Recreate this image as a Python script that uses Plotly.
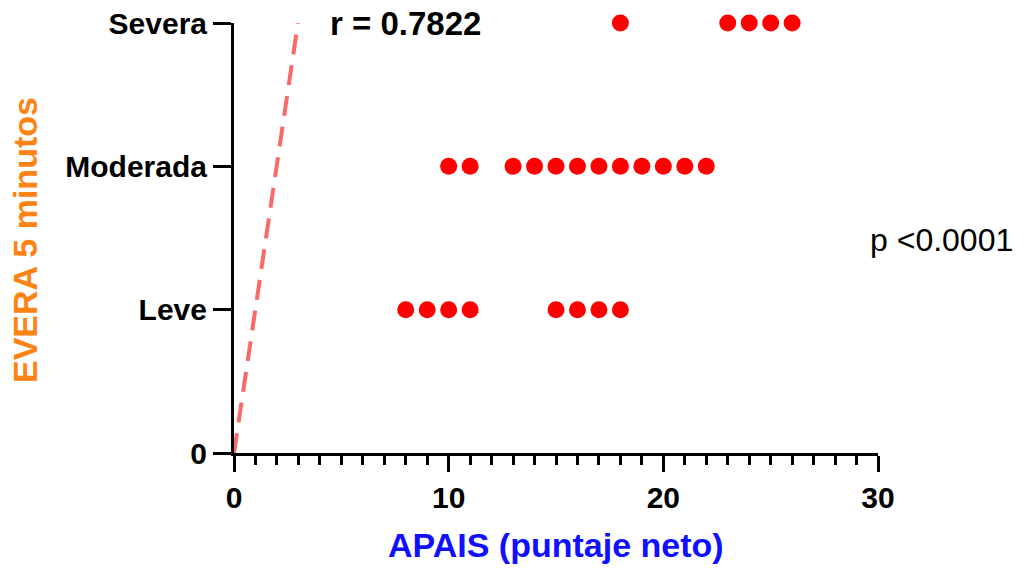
import plotly.graph_objects as go

# Data
levels = ["0", "Leve", "Moderada", "Severa"]
level_vals = [0, 1, 2, 3]
leve_x = [8, 9, 10, 11, 15, 16, 17, 18]
moderada_x = [10, 11, 13, 14, 15, 16, 17, 18, 19, 20, 21, 22]
severa_x = [18, 23, 24, 25, 26]
fit_x = [0, 2.98]
fit_y = [0, 3.0]
x_ticks = [0, 10, 20, 30]

FONT = "Arial, Liberation Sans, sans-serif"
RED = "#ff0000"

fig = go.Figure()

fig.add_trace(go.Scatter(x=fit_x, y=fit_y, mode="lines",
                         line=dict(color="#f86a6a", width=4, dash="20px,11px"),
                         showlegend=False, hoverinfo="skip"))

for xs, lv in [(leve_x, 1), (moderada_x, 2), (severa_x, 3)]:
    fig.add_trace(go.Scatter(x=xs, y=[lv] * len(xs), mode="markers",
                             marker=dict(color=RED, size=17, line=dict(width=0)),
                             showlegend=False, cliponaxis=False))

fig.update_layout(
    width=1025, height=569,
    margin=dict(l=234, r=147, t=23, b=116, autoexpand=False),
    plot_bgcolor="white", paper_bgcolor="white",
    font=dict(family=FONT, color="black"),
    xaxis=dict(range=[0, 30], tickvals=x_ticks, ticktext=[str(v) for v in x_ticks],
               showgrid=False, zeroline=False, showline=True, linecolor="black", linewidth=3,
               ticks="outside", ticklen=16, tickwidth=3, tickcolor="black", automargin=False,
               tickfont=dict(size=30, family=FONT, color="black", weight="bold"),
               minor=dict(dtick=1, ticks="outside", ticklen=9, tickwidth=3, tickcolor="black")),
    yaxis=dict(range=[0, 3], tickvals=level_vals, ticktext=levels,
               showgrid=False, zeroline=False, showline=True, linecolor="black", linewidth=3,
               ticks="outside", ticklen=18, tickwidth=3, tickcolor="black", automargin=False,
               tickfont=dict(size=30, family=FONT, color="black", weight="bold")),
    annotations=[
        dict(text="<b>r = 0.7822</b>", xref="paper", yref="paper", x=(328 - 234) / 644, y=(453 - 23) / 430,
             xanchor="left", yanchor="middle", showarrow=False,
             font=dict(size=33, family=FONT, color="black")),
        dict(text="p <0.0001", xref="paper", yref="paper", x=(868 - 234) / 644, y=(453 - 240) / 430,
             xanchor="left", yanchor="middle", showarrow=False,
             font=dict(size=32, family=FONT, color="black")),
        dict(text="<b>APAIS (puntaje neto)</b>", xref="paper", yref="paper", x=0.5, y=(453 - 545) / 430,
             xanchor="center", yanchor="middle", showarrow=False,
             font=dict(size=34, family=FONT, color="#1010ff")),
        dict(text="<b>EVERA 5 minutos</b>", xref="paper", yref="paper", x=(25 - 234) / 644, y=(453 - 240) / 430,
             xanchor="center", yanchor="middle", showarrow=False, textangle=-90,
             font=dict(size=34, family=FONT, color="#ff8312")),
    ],
)

fig.write_html("out.html")
